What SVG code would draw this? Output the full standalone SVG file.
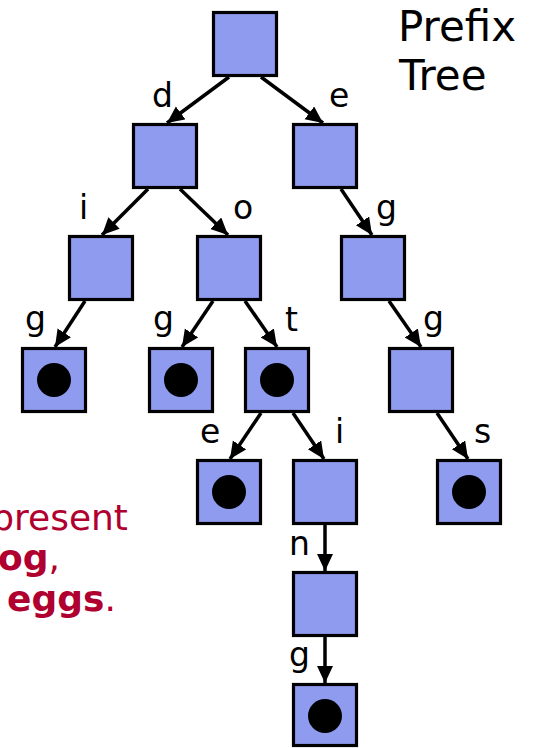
<svg xmlns="http://www.w3.org/2000/svg" width="539" height="748" viewBox="0 0 539 748">
  <style>
    .node rect { fill: #8f9bee; stroke: #000; stroke-width: 3.2; }
    .node circle { fill: #000; }
    .edges line { stroke: #000; stroke-width: 3.5; marker-end: url(#arrow); }
    .lbl { font-family: "DejaVu Sans", Verdana, sans-serif; font-size: 33px; fill: #000; }
    .title { font-family: "DejaVu Sans", Verdana, sans-serif; font-size: 42px; fill: #000; }
    .note { font-family: "DejaVu Sans", Verdana, sans-serif; font-size: 36px; fill: #b00030; text-anchor: end; }
    .note .b { font-weight: bold; }
  </style>
  <defs>
    <marker id="arrow" markerUnits="userSpaceOnUse" markerWidth="20" markerHeight="18" refX="17" refY="8" orient="auto">
      <path d="M0,0 L17,8 L0,16 Z" fill="#000"/>
    </marker>
  </defs>

  <rect width="539" height="748" fill="#fff"/>

  <!-- connectors: parent bottom to child top -->
  <g id="edges" class="edges">
    <line x1="229" y1="77" x2="167" y2="123"/>
    <line x1="261" y1="77" x2="323" y2="123"/>
    <line x1="148" y1="189" x2="102" y2="235"/>
    <line x1="180" y1="189" x2="228" y2="235"/>
    <line x1="341" y1="189" x2="372" y2="235"/>
    <line x1="85" y1="301" x2="55" y2="347"/>
    <line x1="213" y1="301" x2="182" y2="347"/>
    <line x1="245" y1="301" x2="277" y2="347"/>
    <line x1="389" y1="301" x2="421" y2="347"/>
    <line x1="261" y1="413" x2="230" y2="459"/>
    <line x1="293" y1="413" x2="324" y2="459"/>
    <line x1="437" y1="413" x2="468" y2="459"/>
    <line x1="325" y1="525" x2="325" y2="571"/>
    <line x1="325" y1="637" x2="325" y2="683"/>
  </g>

  <!-- edge labels -->
  <g id="labels" class="lbl">
    <text x="152" y="107">d</text>
    <text x="329" y="107">e</text>
    <text x="79" y="219">i</text>
    <text x="233" y="219">o</text>
    <text x="376" y="219">g</text>
    <text x="25" y="330">g</text>
    <text x="153" y="330">g</text>
    <text x="285" y="331">t</text>
    <text x="423" y="330">g</text>
    <text x="200" y="443">e</text>
    <text x="335" y="443">i</text>
    <text x="474" y="443">s</text>
    <text x="289" y="555">n</text>
    <text x="289" y="666">g</text>
  </g>

  <!-- nodes -->
  <g id="n-root" class="node"><rect x="213.5" y="12.5" width="63" height="63"/></g>
  <g id="n-d" class="node"><rect x="133.5" y="124.5" width="63" height="63"/></g>
  <g id="n-e" class="node"><rect x="293.5" y="124.5" width="63" height="63"/></g>
  <g id="n-di" class="node"><rect x="69.5" y="236.5" width="63" height="63"/></g>
  <g id="n-do" class="node"><rect x="197.5" y="236.5" width="63" height="63"/></g>
  <g id="n-eg" class="node"><rect x="341.5" y="236.5" width="63" height="63"/></g>
  <g id="n-dig" class="node"><rect x="22.5" y="348.5" width="63" height="63"/><circle cx="54" cy="380" r="17"/></g>
  <g id="n-dog" class="node"><rect x="149.5" y="348.5" width="63" height="63"/><circle cx="181" cy="380" r="17"/></g>
  <g id="n-dot" class="node"><rect x="245.5" y="348.5" width="63" height="63"/><circle cx="277" cy="380" r="17"/></g>
  <g id="n-egg" class="node"><rect x="389.5" y="348.5" width="63" height="63"/></g>
  <g id="n-dote" class="node"><rect x="197.5" y="460.5" width="63" height="63"/><circle cx="229" cy="492" r="17"/></g>
  <g id="n-doti" class="node"><rect x="293.5" y="460.5" width="63" height="63"/></g>
  <g id="n-eggs" class="node"><rect x="437.5" y="460.5" width="63" height="63"/><circle cx="469" cy="492" r="17"/></g>
  <g id="n-dotin" class="node"><rect x="293.5" y="572.5" width="63" height="63"/></g>
  <g id="n-doting" class="node"><rect x="293.5" y="684.5" width="63" height="61"/><circle cx="325" cy="716" r="17"/></g>

  <!-- title -->
  <g id="title" class="title">
    <text x="398" y="41">Prefix</text>
    <text x="399" y="90">Tree</text>
  </g>

  <!-- note -->
  <g id="note" class="note">
    <text x="128" y="530">present</text>
    <text x="60" y="570"><tspan class="b">og</tspan>,</text>
    <text x="7" y="611" text-anchor="start"><tspan class="b">eggs</tspan>.</text>
  </g>
</svg>
